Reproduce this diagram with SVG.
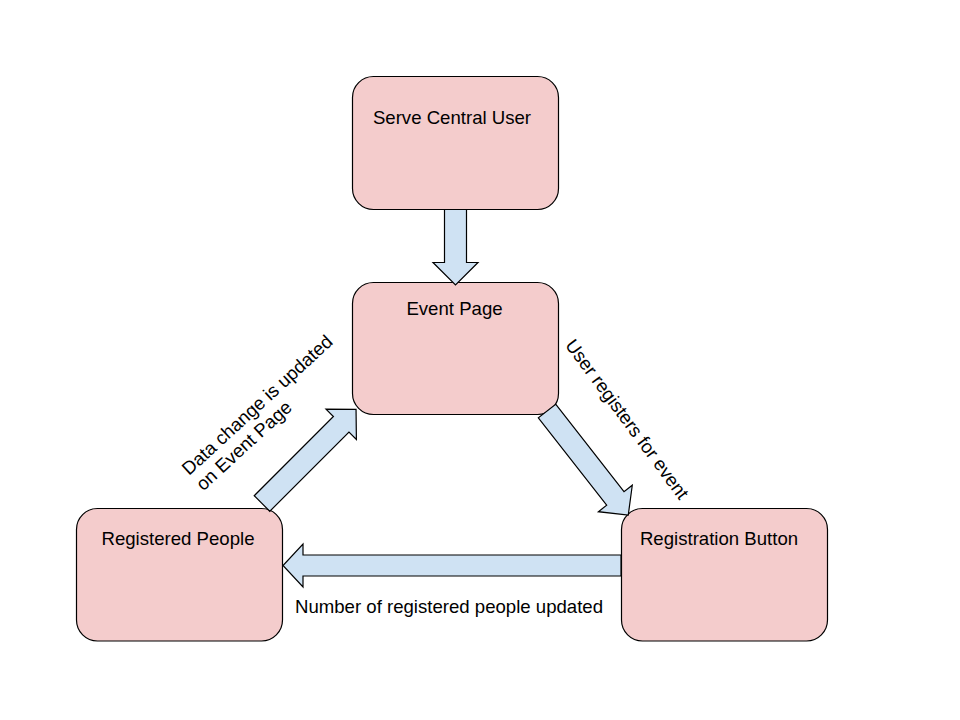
<svg xmlns="http://www.w3.org/2000/svg" width="960" height="720" viewBox="0 0 960 720">
<style>
.box{fill:#f4cccc;stroke:#000;stroke-width:1.2}
.arr{fill:#cfe2f3;stroke:#000;stroke-width:1.2;stroke-linejoin:miter}
text{font-family:"Liberation Sans",Arial,sans-serif;font-size:18.6px;fill:#000}
</style>
<rect width="960" height="720" fill="#fff"/>
<g id="serve-central-user">
<rect class="box" x="352.5" y="76.5" width="206" height="133" rx="21"/>
<text x="452" y="123.5" text-anchor="middle">Serve Central User</text>
</g>
<g id="event-page">
<rect class="box" x="352.5" y="282.5" width="206" height="132" rx="21"/>
<text x="454.5" y="315" text-anchor="middle">Event Page</text>
</g>
<g id="registered-people">
<rect class="box" x="76.5" y="508.5" width="206" height="132.5" rx="21"/>
<text x="178" y="545" text-anchor="middle">Registered People</text>
</g>
<g id="registration-button">
<rect class="box" x="621.5" y="508.5" width="206" height="132.5" rx="21"/>
<text x="719" y="545" text-anchor="middle">Registration Button</text>
</g>
<g id="connectors">
<polygon class="arr" points="444.5,209.5 466.5,209.5 466.5,262.5 478,262.5 455.5,285 433,262.5 444.5,262.5"/>
<polygon class="arr" transform="translate(262,503.5) rotate(-45)" points="0,-11 112,-11 112,-21.5 133,0 112,21.5 112,11 0,11"/>
<polygon class="arr" transform="translate(547,411) rotate(52)" points="0,-11 111,-11 111,-21.5 132,0 111,21.5 111,11 0,11"/>
<polygon class="arr" points="621,555 303,555 303,544 283,565.5 303,587 303,576 621,576"/>
<text transform="translate(189,476) rotate(-42.5)"><tspan x="0" y="0">Data change is updated</tspan><tspan x="0" y="21">on Event Page</tspan></text>
<text transform="translate(622,423) rotate(53.5)" text-anchor="middle">User registers for event</text>
<text x="295" y="612.5">Number of registered people updated</text>
</g>
</svg>
